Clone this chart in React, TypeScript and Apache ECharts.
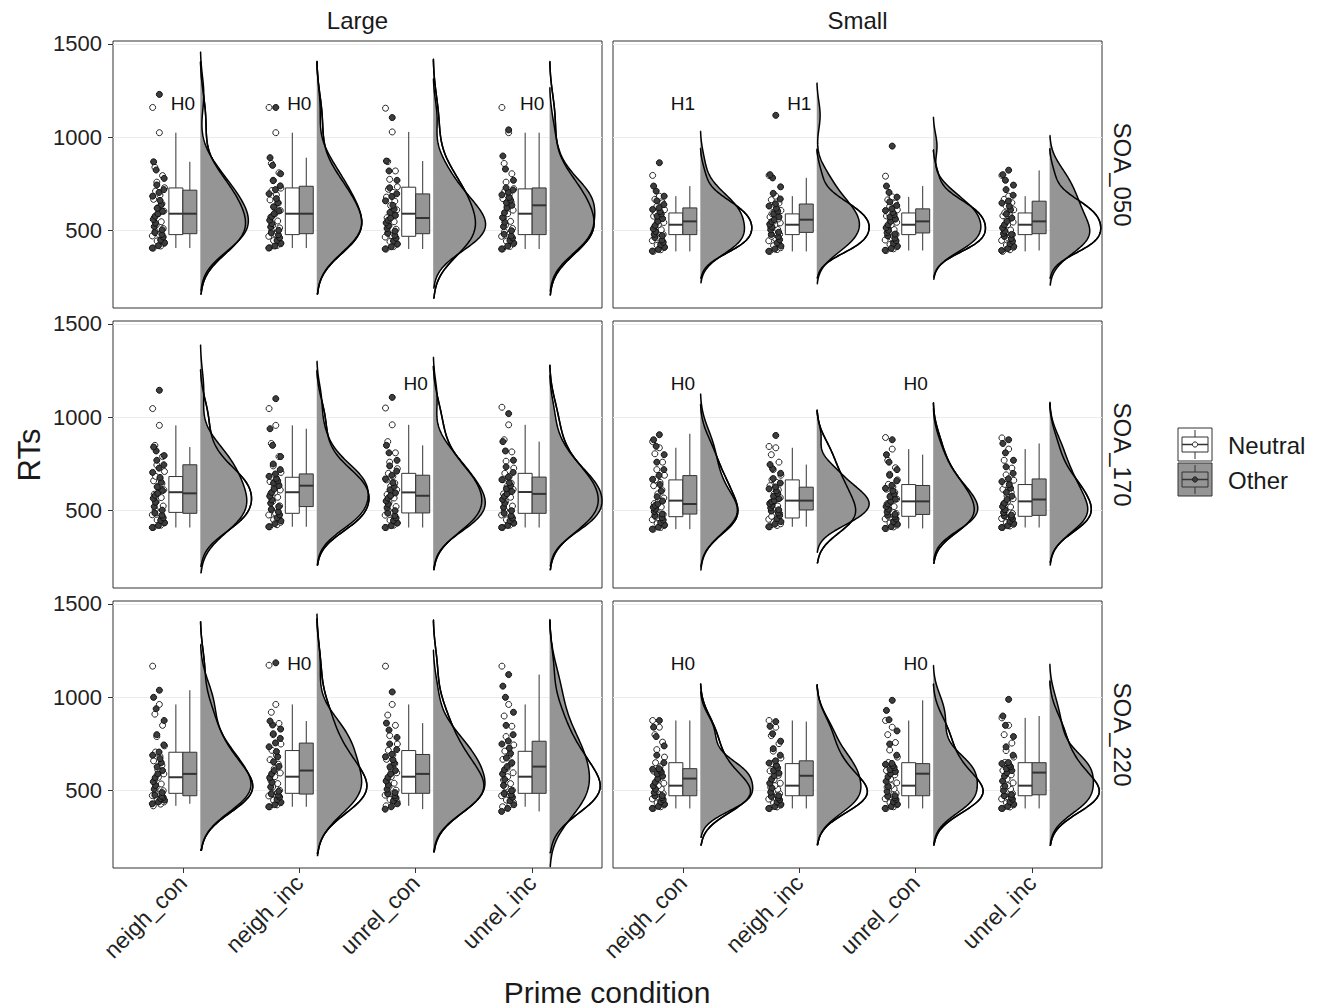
import React, { useEffect, useRef } from "react";
import * as echarts from "echarts";

// ---------- data ----------
const CATEGORIES = ["neigh_con", "neigh_inc", "unrel_con", "unrel_inc"];
const SIZES = ["Large", "Small"];
const SOAS = ["SOA_050", "SOA_170", "SOA_220"];
const Y_TICKS = [500, 1000, 1500];
const GROUPS = ["Neutral", "Other"];

// participant RTs (per prime condition), Large / SOA_050
const ptsL050N = [
  [407, 418, 432, 445, 458, 472, 480, 495, 512, 530, 548, 570, 591, 605, 622, 645, 668, 690, 712, 730, 760, 795, 840, 1025, 1160],
  [409, 421, 430, 447, 460, 470, 482, 498, 515, 528, 552, 572, 590, 608, 626, 648, 665, 692, 715, 728, 770, 810, 860, 1025, 1160],
  [402, 415, 428, 442, 455, 466, 474, 490, 508, 527, 548, 570, 591, 612, 635, 658, 680, 705, 722, 735, 775, 820, 870, 1029, 1156],
  [402, 416, 430, 444, 458, 470, 480, 494, 512, 530, 550, 571, 591, 610, 630, 652, 672, 695, 712, 725, 760, 805, 860, 1025, 1160],
];
const ptsL050O = [
  [407, 420, 436, 450, 466, 480, 490, 505, 522, 540, 560, 578, 591, 604, 620, 640, 662, 685, 705, 720, 745, 780, 825, 869, 1230],
  [407, 418, 433, 448, 462, 478, 488, 502, 520, 538, 556, 575, 591, 606, 628, 650, 672, 698, 720, 740, 768, 805, 850, 891, 1160],
  [402, 414, 429, 445, 460, 475, 486, 498, 512, 528, 542, 556, 568, 582, 598, 615, 636, 660, 683, 698, 730, 770, 820, 873, 1106],
  [402, 418, 434, 448, 461, 472, 481, 500, 522, 545, 570, 596, 622, 636, 650, 664, 678, 692, 706, 718, 730, 770, 830, 900, 1040],
];
// Small / SOA_050
const ptsS050N = [
  [389, 398, 410, 422, 434, 447, 460, 472, 480, 492, 505, 518, 532, 544, 555, 566, 578, 588, 596, 612, 630, 650, 668, 685, 796],
  [389, 399, 409, 420, 433, 446, 458, 470, 480, 493, 507, 520, 532, 542, 552, 563, 574, 584, 591, 608, 628, 648, 666, 685, 796],
  [394, 403, 414, 426, 438, 450, 462, 473, 480, 492, 506, 519, 532, 545, 557, 568, 579, 589, 596, 612, 630, 648, 665, 681, 792],
  [389, 398, 411, 423, 436, 448, 461, 471, 479, 491, 504, 518, 532, 546, 558, 569, 580, 590, 596, 612, 632, 650, 668, 685, 796],
];
const ptsS050O = [
  [391, 400, 412, 425, 438, 450, 463, 474, 481, 495, 510, 528, 550, 565, 578, 590, 603, 614, 623, 640, 660, 685, 712, 739, 864],
  [390, 402, 418, 435, 452, 468, 480, 492, 505, 520, 535, 548, 559, 574, 590, 605, 620, 632, 644, 670, 700, 735, 783, 800, 1118],
  [395, 405, 418, 432, 446, 460, 472, 482, 489, 502, 516, 532, 550, 562, 574, 586, 598, 608, 618, 635, 655, 680, 705, 739, 953],
  [394, 404, 416, 430, 444, 458, 470, 480, 485, 498, 515, 532, 550, 568, 590, 612, 632, 648, 659, 690, 720, 744, 770, 800, 824],
];
// Large / SOA_170
const ptsL170N = [
  [410, 422, 436, 450, 465, 478, 488, 505, 525, 548, 570, 588, 599, 612, 628, 645, 660, 672, 684, 710, 745, 790, 850, 957, 1047],
  [414, 425, 438, 452, 466, 477, 487, 505, 526, 550, 572, 590, 599, 611, 626, 642, 656, 668, 680, 705, 740, 790, 860, 957, 1047],
  [410, 422, 435, 449, 463, 476, 487, 502, 522, 545, 568, 587, 598, 612, 630, 648, 665, 684, 700, 725, 760, 810, 870, 960, 1050],
  [410, 423, 437, 451, 465, 477, 487, 504, 525, 548, 572, 590, 600, 614, 630, 648, 666, 684, 700, 728, 765, 815, 880, 960, 1054],
];
const ptsL170O = [
  [410, 421, 435, 448, 462, 476, 487, 503, 522, 545, 566, 582, 593, 608, 628, 652, 678, 705, 728, 746, 770, 795, 820, 841, 1145],
  [414, 430, 446, 462, 478, 494, 508, 522, 540, 558, 578, 598, 616, 634, 648, 660, 672, 684, 697, 720, 750, 790, 850, 939, 1100],
  [410, 420, 434, 447, 461, 474, 487, 500, 516, 535, 552, 568, 580, 595, 612, 630, 650, 670, 690, 712, 740, 770, 810, 850, 1107],
  [410, 421, 433, 446, 460, 473, 486, 500, 518, 540, 560, 577, 590, 603, 618, 634, 650, 666, 680, 705, 735, 770, 820, 870, 1020],
];
// Small / SOA_170
const ptsS170N = [
  [401, 410, 420, 431, 442, 452, 462, 469, 480, 500, 520, 538, 554, 568, 590, 612, 634, 652, 666, 690, 720, 760, 805, 837, 870],
  [414, 421, 430, 438, 446, 454, 461, 470, 485, 505, 525, 542, 554, 570, 590, 612, 634, 652, 666, 690, 720, 760, 800, 837, 844],
  [405, 413, 423, 434, 445, 456, 465, 471, 485, 505, 522, 537, 550, 563, 580, 598, 615, 628, 641, 665, 695, 730, 770, 830, 892],
  [410, 418, 427, 437, 448, 458, 466, 471, 485, 503, 520, 536, 550, 564, 580, 598, 615, 628, 641, 663, 692, 728, 770, 830, 890],
];
const ptsS170O = [
  [401, 412, 424, 437, 450, 463, 474, 482, 495, 508, 518, 528, 536, 552, 575, 605, 640, 668, 689, 720, 760, 800, 845, 880, 907],
  [414, 428, 442, 458, 474, 488, 498, 505, 516, 528, 538, 547, 554, 565, 578, 592, 606, 617, 627, 648, 672, 700, 725, 747, 903],
  [405, 415, 428, 441, 455, 467, 476, 481, 493, 508, 522, 536, 550, 562, 575, 590, 606, 620, 636, 660, 690, 720, 760, 800, 880],
  [410, 420, 432, 444, 456, 466, 473, 476, 490, 506, 522, 540, 560, 578, 598, 620, 640, 656, 671, 700, 735, 770, 810, 860, 880],
];
// Large / SOA_220
const ptsL220N = [
  [419, 428, 440, 452, 463, 474, 482, 487, 500, 518, 536, 554, 572, 590, 612, 636, 660, 684, 707, 740, 790, 850, 910, 962, 1167],
  [414, 424, 436, 449, 461, 472, 481, 487, 502, 520, 538, 557, 575, 595, 618, 642, 666, 690, 716, 750, 800, 860, 920, 962, 1172],
  [419, 429, 441, 453, 465, 476, 483, 487, 503, 522, 540, 558, 575, 596, 620, 645, 668, 692, 716, 750, 795, 850, 905, 962, 1167],
  [414, 425, 437, 450, 462, 473, 481, 487, 502, 520, 538, 557, 575, 596, 620, 644, 668, 690, 712, 745, 790, 845, 900, 962, 1167],
];
const ptsL220O = [
  [430, 440, 449, 457, 464, 470, 476, 490, 508, 528, 548, 570, 590, 608, 628, 650, 672, 690, 707, 745, 800, 876, 939, 1000, 1038],
  [414, 425, 438, 452, 466, 476, 482, 497, 520, 545, 570, 590, 608, 630, 655, 682, 710, 735, 756, 780, 805, 830, 852, 873, 1185],
  [401, 414, 430, 446, 461, 474, 483, 490, 508, 530, 552, 572, 590, 608, 628, 648, 666, 682, 695, 720, 750, 785, 825, 862, 1029],
  [389, 405, 425, 446, 465, 478, 484, 500, 528, 560, 590, 612, 629, 650, 675, 700, 728, 750, 766, 800, 850, 920, 1000, 1060, 1122],
];
// Small / SOA_220
const ptsS220N = [
  [405, 414, 424, 435, 446, 456, 465, 474, 485, 498, 510, 520, 527, 540, 558, 580, 605, 628, 650, 680, 720, 760, 800, 840, 876],
  [405, 413, 423, 434, 445, 455, 464, 473, 484, 497, 508, 518, 527, 540, 560, 582, 606, 628, 645, 675, 712, 752, 795, 840, 876],
  [405, 414, 425, 436, 447, 457, 466, 474, 486, 499, 510, 519, 527, 542, 562, 585, 608, 630, 651, 680, 718, 758, 800, 840, 876],
  [405, 413, 424, 435, 446, 456, 465, 474, 485, 498, 509, 518, 527, 542, 562, 585, 608, 630, 651, 680, 715, 755, 800, 850, 890],
];
const ptsS220O = [
  [405, 416, 428, 440, 452, 463, 472, 474, 490, 508, 526, 545, 565, 578, 590, 600, 610, 615, 618, 650, 690, 740, 790, 840, 876],
  [405, 415, 427, 439, 451, 461, 469, 473, 492, 515, 540, 562, 580, 594, 608, 622, 636, 648, 660, 690, 725, 765, 805, 845, 870],
  [405, 416, 428, 440, 452, 462, 470, 473, 496, 522, 550, 575, 591, 602, 613, 624, 634, 641, 646, 690, 750, 820, 880, 930, 984],
  [405, 416, 428, 441, 454, 465, 473, 479, 500, 525, 552, 578, 597, 608, 618, 628, 637, 645, 651, 690, 735, 790, 850, 900, 989],
];

// box statistics [lower whisker, Q1, median, Q3, upper whisker]
const boxL050N = [[407, 479, 591, 729, 1025], [407, 479, 591, 729, 1025], [402, 470, 591, 733, 1029], [402, 479, 591, 724, 1025]];
const boxL050O = [[407, 484, 591, 717, 869], [407, 484, 591, 738, 891], [402, 484, 568, 697, 873], [402, 479, 636, 729, 1025]];
const boxS050N = [[389, 479, 532, 595, 685], [389, 479, 532, 590, 685], [394, 479, 532, 595, 681], [389, 479, 532, 595, 685]];
const boxS050O = [[389, 479, 550, 622, 739], [389, 491, 559, 643, 783], [394, 488, 550, 617, 739], [394, 484, 550, 658, 823]];
const boxL170N = [[410, 491, 599, 683, 957], [414, 486, 599, 679, 957], [410, 488, 598, 700, 960], [410, 486, 600, 700, 960]];
const boxL170O = [[410, 486, 593, 746, 841], [414, 522, 634, 697, 939], [410, 488, 580, 690, 850], [410, 486, 590, 680, 870]];
const boxS170N = [[401, 468, 554, 665, 837], [414, 461, 554, 665, 837], [405, 470, 550, 640, 830], [410, 470, 550, 640, 830]];
const boxS170O = [[401, 482, 536, 688, 912], [414, 504, 554, 626, 747], [405, 480, 550, 635, 800], [410, 475, 560, 670, 860]];
const boxL220N = [[419, 486, 572, 706, 962], [414, 486, 575, 715, 962], [419, 486, 575, 715, 962], [414, 486, 575, 711, 962]];
const boxL220O = [[430, 473, 590, 706, 1038], [414, 482, 608, 755, 873], [401, 486, 590, 694, 862], [389, 486, 629, 765, 1122]];
const boxS220N = [[405, 473, 527, 650, 876], [405, 473, 527, 645, 876], [405, 473, 527, 650, 876], [405, 473, 527, 650, 890]];
const boxS220O = [[405, 473, 565, 618, 876], [405, 473, 580, 660, 870], [405, 473, 591, 645, 984], [405, 478, 597, 650, 900]];

// hypothesis labels
const hypL050 = ["H0", "H0", "", "H0"];
const hypS050 = ["H1", "H1", "", ""];
const hypL170 = ["", "", "H0", ""];
const hypS170 = ["H0", "", "H0", ""];
const hypL220 = ["", "H0", "", ""];
const hypS220 = ["H0", "", "H0", ""];
const HYP_RT = 1180;

// ---------- layout / style ----------
const FONT = '"Liberation Sans", Arial, Helvetica, sans-serif';
const GRID_LEFT = [113, 613];
const GRID_TOP = [41, 321, 601];
const GRID_W = 489;
const GRID_H = 267;
const Y_MIN = 86;
const Y_MAX = 1516;
const X_MIN = 0.4;
const X_MAX = 4.6;
const POINT_CENTER = -0.21;
const POINT_SPREAD = 0.055;
const BOX_OFFSET = 0.06;
const BOX_HALF = 0.06;
const VIOLIN_NUDGE = 0.15;
const VIOLIN_MAXW = 0.45;
const BW_ADJUST = 1.3;
const GRAY = "#959595";
const INK = "#262626";
const JITTER = [-0.8, 0.35, 0.9, -0.2, 0.6, -0.95, 0.1, -0.5, 0.75, -0.35, 0.45, -0.65, 0.0, 0.85, -0.1, 0.55, -0.75, 0.25, -0.45, 0.95, -0.25, 0.65, -0.55, 0.15, -0.9];

const PANELS = [
  { ptsN: ptsL050N, ptsO: ptsL050O, boxN: boxL050N, boxO: boxL050O, hyp: hypL050 },
  { ptsN: ptsS050N, ptsO: ptsS050O, boxN: boxS050N, boxO: boxS050O, hyp: hypS050 },
  { ptsN: ptsL170N, ptsO: ptsL170O, boxN: boxL170N, boxO: boxL170O, hyp: hypL170 },
  { ptsN: ptsS170N, ptsO: ptsS170O, boxN: boxS170N, boxO: boxS170O, hyp: hypS170 },
  { ptsN: ptsL220N, ptsO: ptsL220O, boxN: boxL220N, boxO: boxL220O, hyp: hypL220 },
  { ptsN: ptsS220N, ptsO: ptsS220O, boxN: boxS220N, boxO: boxS220O, hyp: hypS220 },
];

// ---------- statistics (kernel density like R's density / nrd0) ----------
function quantile(s: number[], p: number) {
  const h = (s.length - 1) * p;
  const lo = Math.floor(h);
  const hi = Math.min(lo + 1, s.length - 1);
  return s[lo] + (h - lo) * (s[hi] - s[lo]);
}
function nrd0(vals: number[]) {
  const s = [...vals].sort((a, b) => a - b);
  const n = s.length;
  const mean = s.reduce((a, b) => a + b, 0) / n;
  const sd = Math.sqrt(s.reduce((a, b) => a + (b - mean) * (b - mean), 0) / (n - 1));
  const iqr = quantile(s, 0.75) - quantile(s, 0.25);
  const lo = Math.min(sd, iqr / 1.34);
  return 0.9 * lo * Math.pow(n, -0.2);
}
function kde(vals: number[]) {
  const base = nrd0(vals);
  const bw = base * BW_ADJUST;
  const s = [...vals].sort((a, b) => a - b);
  const from = s[0] - 3 * base;
  const to = s[s.length - 1] + 3 * base;
  const steps = 160;
  const out: number[][] = [];
  const norm = 1 / (s.length * bw * Math.sqrt(2 * Math.PI));
  for (let i = 0; i <= steps; i++) {
    const y = from + ((to - from) * i) / steps;
    let d = 0;
    for (const v of s) {
      const z = (y - v) / bw;
      d += Math.exp(-0.5 * z * z);
    }
    out.push([y, d * norm]);
  }
  return out;
}

function violinRender(curves: number[][][], scale: number, fill: string, stroke: string, lineWidth: number) {
  return (params: any, api: any) => {
    const curve = curves[params.dataIndex];
    const x0 = api.value(0);
    const pts: number[][] = [];
    pts.push(api.coord([x0, curve[0][0]]));
    for (const [y, d] of curve) pts.push(api.coord([x0 + d * scale, y]));
    pts.push(api.coord([x0, curve[curve.length - 1][0]]));
    return {
      type: "polyline",
      shape: { points: pts },
      style: { fill, stroke, lineWidth, lineJoin: "round" },
      silent: true,
    };
  };
}

function boxRender(fill: string) {
  return (params: any, api: any) => {
    const x = api.value(0);
    const lo = api.coord([x, api.value(1)]);
    const q1 = api.coord([x, api.value(2)]);
    const md = api.coord([x, api.value(3)]);
    const q3 = api.coord([x, api.value(4)]);
    const hi = api.coord([x, api.value(5)]);
    const left = api.coord([x - BOX_HALF, api.value(4)]);
    const right = api.coord([x + BOX_HALF, api.value(2)]);
    const ls = { stroke: "#333", lineWidth: 1 };
    return {
      type: "group",
      children: [
        { type: "line", shape: { x1: lo[0], y1: lo[1], x2: q1[0], y2: q1[1] }, style: ls },
        { type: "line", shape: { x1: q3[0], y1: q3[1], x2: hi[0], y2: hi[1] }, style: ls },
        { type: "rect", shape: { x: left[0], y: left[1], width: right[0] - left[0], height: right[1] - left[1] }, style: { fill, stroke: "#333", lineWidth: 1 } },
        { type: "line", shape: { x1: left[0], y1: md[1], x2: right[0], y2: md[1] }, style: { stroke: "#333", lineWidth: 2 } },
      ],
    };
  };
}

function buildOption() {
  const grid: any[] = [];
  const xAxis: any[] = [];
  const yAxis: any[] = [];
  const series: any[] = [];

  PANELS.forEach((p, i) => {
    const col = i % 2;
    const row = Math.floor(i / 2);
    grid.push({
      left: GRID_LEFT[col], top: GRID_TOP[row], width: GRID_W, height: GRID_H,
      show: true, borderColor: "#333", borderWidth: 1, backgroundColor: "#fff",
      containLabel: false, outerBoundsMode: "none",
    });
    xAxis.push({
      gridIndex: i, type: "value", min: X_MIN, max: X_MAX,
      axisLine: { show: false }, splitLine: { show: false },
      axisTick: { show: row === 2, customValues: [1, 2, 3, 4], length: 5, lineStyle: { color: "#333" } },
      axisLabel: {
        show: row === 2, customValues: [1, 2, 3, 4], rotate: 45, margin: 11,
        formatter: (v: number) => CATEGORIES[Math.round(v) - 1] || "",
        fontSize: 23, color: "#222", fontFamily: FONT,
      },
    });
    yAxis.push({
      gridIndex: i, type: "value", min: Y_MIN, max: Y_MAX,
      axisLine: { show: false },
      splitLine: { show: true, lineStyle: { color: "#ececec", width: 1 } },
      axisTick: { show: col === 0, customValues: Y_TICKS, length: 5, lineStyle: { color: "#333" } },
      axisLabel: {
        show: col === 0, customValues: Y_TICKS, margin: 11, fontSize: 22, color: "#222", fontFamily: FONT,
        formatter: (v: number) => String(Math.round(v)),
      },
    });

    const densN = p.ptsN.map((v) => kde(v));
    const densO = p.ptsO.map((v) => kde(v));
    let maxD = 0;
    [...densN, ...densO].forEach((c) => c.forEach(([, d]) => (maxD = Math.max(maxD, d))));
    const scale = VIOLIN_MAXW / maxD;
    const vData = CATEGORIES.map((_, c) => [c + 1 + VIOLIN_NUDGE, p.boxN[c][2]]);
    const common = { xAxisIndex: i, yAxisIndex: i, silent: true, animation: false };

    series.push({ ...common, type: "custom", name: "Neutral", data: vData, renderItem: violinRender(densN, scale, "#fff", "#000", 1.5) });
    series.push({ ...common, type: "custom", name: "Other", data: vData, renderItem: violinRender(densO, scale, GRAY, "#000", 1.5) });
    series.push({ ...common, type: "custom", name: "NeutralOutline", data: vData, renderItem: violinRender(densN, scale, "none", "#000", 1.5) });

    series.push({
      ...common, type: "custom", name: "Neutral box",
      data: p.boxN.map((b, c) => [c + 1 - BOX_OFFSET, ...b]),
      encode: { x: 0, y: [1, 2, 3, 4, 5] },
      renderItem: boxRender("#fff"),
    });
    series.push({
      ...common, type: "custom", name: "Other box",
      data: p.boxO.map((b, c) => [c + 1 + BOX_OFFSET, ...b]),
      encode: { x: 0, y: [1, 2, 3, 4, 5] },
      renderItem: boxRender(GRAY),
    });

    series.push({
      ...common, type: "scatter", name: "Neutral points", symbol: "circle", symbolSize: 6,
      itemStyle: { color: "#fff", borderColor: INK, borderWidth: 1, opacity: 1 },
      data: p.ptsN.flatMap((arr, c) => arr.map((v, k) => [c + 1 + POINT_CENTER + POINT_SPREAD * JITTER[k % JITTER.length], v])),
    });
    series.push({
      ...common, type: "scatter", name: "Other points", symbol: "circle", symbolSize: 6,
      itemStyle: { color: "#3d3d3d", borderColor: "#111", borderWidth: 1, opacity: 1 },
      data: p.ptsO.flatMap((arr, c) => arr.map((v, k) => [c + 1 + POINT_CENTER + POINT_SPREAD * JITTER[(k * 7 + 5) % JITTER.length], v])),
    });

    series.push({
      ...common, type: "scatter", name: "hyp", symbolSize: 1,
      itemStyle: { color: "rgba(0,0,0,0)", opacity: 1 },
      label: { show: true, position: "inside", formatter: "{b}", fontSize: 19, color: "#111", opacity: 1, fontFamily: FONT },
      data: p.hyp.map((h, c) => ({ value: [c + 1, HYP_RT], name: h })).filter((d) => d.name),
    });
  });

  const txt = (text: string, x: number, y: number, size: number, rotation = 0, align = "center") => ({
    type: "text", x, y, rotation, silent: true,
    style: {
      text, fontSize: size, fontFamily: FONT, fill: "#1a1a1a",
      align, verticalAlign: "middle", textAlign: align, textVerticalAlign: "middle",
    },
  });

  const legendKey = (y: number, fill: string, ptFill: string) => ({
    type: "group", x: 1178, y, silent: true,
    children: [
      { type: "rect", shape: { x: 0, y: 0, width: 34, height: 33 }, style: { fill, stroke: "#333", lineWidth: 1 } },
      { type: "line", shape: { x1: 17, y1: 2, x2: 17, y2: 9 }, style: { stroke: "#333", lineWidth: 1 } },
      { type: "line", shape: { x1: 17, y1: 24, x2: 17, y2: 31 }, style: { stroke: "#333", lineWidth: 1 } },
      { type: "rect", shape: { x: 4, y: 9, width: 26, height: 15 }, style: { fill, stroke: "#333", lineWidth: 1 } },
      { type: "line", shape: { x1: 4, y1: 16.5, x2: 30, y2: 16.5 }, style: { stroke: "#333", lineWidth: 1.5 } },
      { type: "circle", shape: { cx: 17, cy: 16.5, r: 2.6 }, style: { fill: ptFill, stroke: "#222", lineWidth: 1 } },
    ],
  });

  const graphic: any[] = [
    txt(SIZES[0], GRID_LEFT[0] + GRID_W / 2, 20, 24),
    txt(SIZES[1], GRID_LEFT[1] + GRID_W / 2, 20, 24),
    ...SOAS.map((s, r) => txt(s, 1122, GRID_TOP[r] + GRID_H / 2, 24, -Math.PI / 2)),
    txt("RTs", 29, 455, 31, Math.PI / 2),
    txt("Prime condition", 607, 992, 30),
    legendKey(428, "#fff", "#fff"),
    legendKey(463, GRAY, "#3d3d3d"),
    txt(GROUPS[0], 1228, 445, 24, 0, "left"),
    txt(GROUPS[1], 1228, 480, 24, 0, "left"),
  ];

  return {
    animation: false,
    backgroundColor: "#fff",
    textStyle: { fontFamily: FONT },
    grid, xAxis, yAxis, series, graphic,
  };
}

export default function App() {
  const ref = useRef<HTMLDivElement>(null);
  useEffect(() => {
    if (!ref.current) return;
    const chart = echarts.init(ref.current, null, { renderer: "svg" });
    chart.setOption(buildOption() as any);
    return () => chart.dispose();
  }, []);
  return (
    <div
      ref={ref}
      style={{ position: "fixed", left: 0, top: 0, width: 1320, height: 1007, background: "#fff" }}
    />
  );
}
